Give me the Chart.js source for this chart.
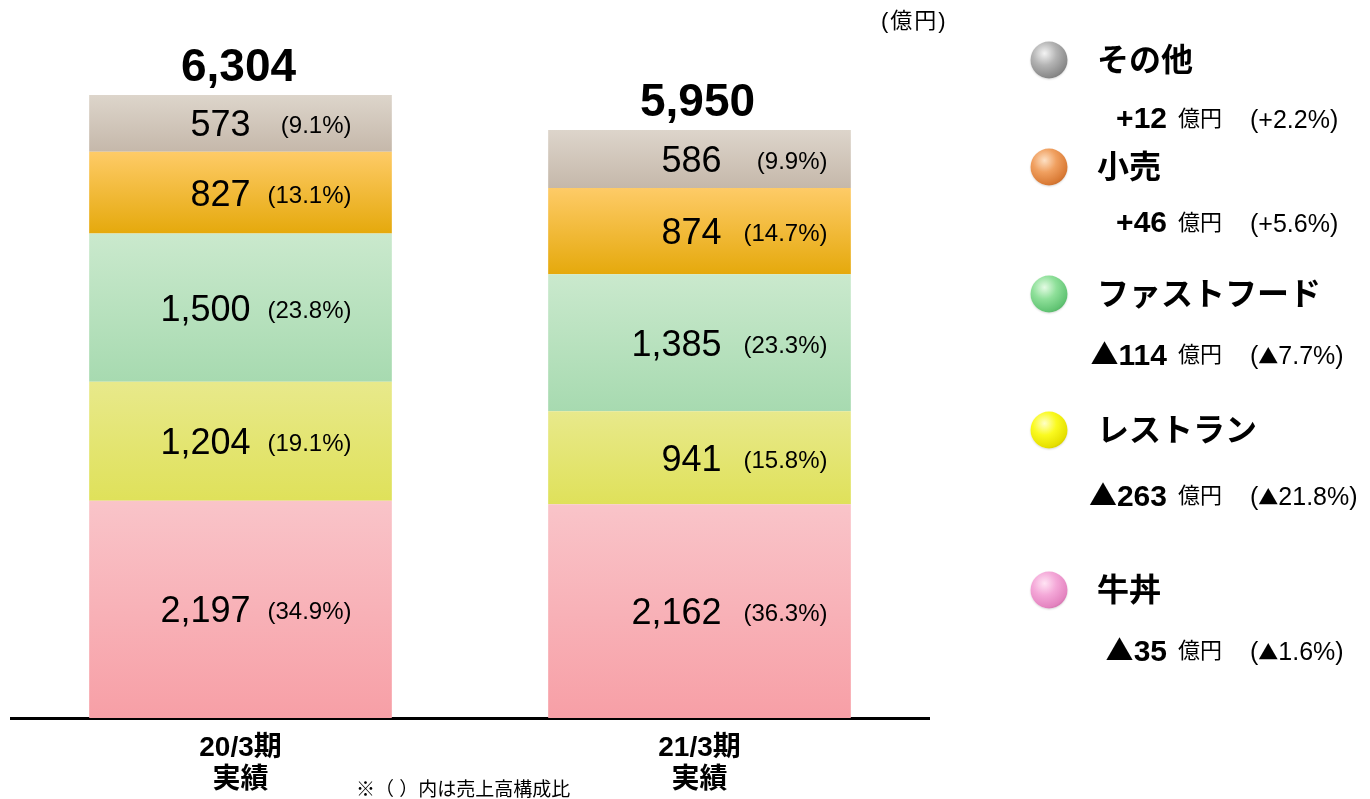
<!DOCTYPE html>
<html lang="ja">
<head>
<meta charset="utf-8">
<script src="https://cdn.jsdelivr.net/npm/chart.js@4.4.1/dist/chart.umd.min.js"></script>
<style>
  html, body { margin: 0; padding: 0; background: #fff; }
  body { width: 1370px; height: 799px; position: relative; overflow: hidden;
         font-family: "Liberation Sans", "Noto Sans CJK JP", sans-serif; color: #000; }
  #wrap { position: absolute; left: 0; top: 0; width: 1370px; height: 799px; }
  .abs { position: absolute; white-space: nowrap; transform: translateY(-50%); line-height: 1; }
  .sphere { position: absolute; width: 37px; height: 37px; border-radius: 50%; transform: translate(-50%, -50%);
            box-shadow: 0 1px 2px rgba(0,0,0,0.15); }
  .ttl { font-weight: bold; font-size: 32px; }
  .num { font-weight: bold; font-size: 30px; text-align: right; }
  .unit { font-size: 22px; }
  .pct { font-size: 25px; }
  .tri { font-family: "Noto Sans CJK JP", sans-serif; }
  .num .tri { font-size: 28px; }
  .pct .tri { font-size: 20px; }
</style>
</head>
<body>
<div id="wrap"><canvas id="c" width="1370" height="799"></canvas></div>
<div id="legend"></div>
<div class="abs" style="left:881px; top:21px; font-size:22px; letter-spacing:2px;">(億円)</div>
<div class="abs" style="left:356px; top:789px; font-size:19px;">※（ ）内は売上高構成比</div>
<script>
// ---------- data ----------
const categories = [["20/3期", "実績"], ["21/3期", "実績"]];
const seriesNames = ["牛丼", "レストラン", "ファストフード", "小売", "その他"];
const gyudon     = [2197, 2162];
const restaurant = [1204, 941];
const fastfood   = [1500, 1385];
const retail     = [827, 874];
const other      = [573, 586];
const totals     = [6304, 5950];
const shareGyudon     = ["34.9%", "36.3%"];
const shareRestaurant = ["19.1%", "15.8%"];
const shareFastfood   = ["23.8%", "23.3%"];
const shareRetail     = ["13.1%", "14.7%"];
const shareOther      = ["9.1%", "9.9%"];
// legend (top to bottom)
const legendNames   = ["その他", "小売", "ファストフード", "レストラン", "牛丼"];
const legendChange  = ["+12", "+46", "▲114", "▲263", "▲35"];
const legendPercent = ["+2.2%", "+5.6%", "▲7.7%", "▲21.8%", "▲1.6%"];

// ---------- styles ----------
const FONT = '"Liberation Sans", "Noto Sans CJK JP", sans-serif';
const gradColors = [
  ["#f9c4c9", "#f79fa6"],   // 牛丼
  ["#e8e98b", "#dfe15a"],   // レストラン
  ["#cae9cd", "#a7dab0"],   // ファストフード
  ["#fecb67", "#e5a90c"],   // 小売
  ["#ddd5cb", "#c5b8aa"]    // その他
];
const sphereStyles = [
  "radial-gradient(circle at 38% 32%, #f4f4f4 0%, #b4b4b4 35%, #8a8a8a 70%, #5a5a5a 100%)",
  "radial-gradient(circle at 38% 32%, #fde0c4 0%, #f0a060 35%, #d97a35 70%, #9c5320 100%)",
  "radial-gradient(circle at 38% 32%, #e4fbe4 0%, #8fe09a 35%, #62c474 70%, #3d8a4a 100%)",
  "radial-gradient(circle at 38% 32%, #ffffc8 0%, #fafa20 35%, #e6e000 70%, #a89e00 100%)",
  "radial-gradient(circle at 38% 32%, #ffe4f4 0%, #f4a8d8 35%, #e484c0 70%, #a05080 100%)"
];
const legendY    = [60, 167, 294, 430, 590];
const legendSubY = [118, 222, 354, 495, 650];
const numRightOffset = [10, 22];    // from bar center
const pctRightOffset = [111, 128];  // from bar center

const seriesData   = [gyudon, restaurant, fastfood, retail, other];
const seriesShares = [shareGyudon, shareRestaurant, shareFastfood, shareRetail, shareOther];

function gradFor(ctx) {
  const chart = ctx.chart;
  const cols = gradColors[ctx.datasetIndex];
  if (ctx.type !== 'data' || !chart.chartArea || !chart.scales.y) return cols[0];
  const i = ctx.dataIndex;
  let start = 0;
  for (let d = 0; d < ctx.datasetIndex; d++) start += seriesData[d][i];
  const end = start + seriesData[ctx.datasetIndex][i];
  const y0 = chart.scales.y.getPixelForValue(end);
  const y1 = chart.scales.y.getPixelForValue(start);
  const g = chart.ctx.createLinearGradient(0, y0, 0, y1);
  g.addColorStop(0, cols[0]);
  g.addColorStop(1, cols[1]);
  return g;
}

const labelPlugin = {
  id: 'segLabels',
  afterDatasetsDraw(chart) {
    const c = chart.ctx;
    c.save();
    c.fillStyle = '#000';
    c.textBaseline = 'alphabetic';
    chart.data.datasets.forEach((ds, di) => {
      const meta = chart.getDatasetMeta(di);
      meta.data.forEach((el, i) => {
        const cy = (el.y + el.base) / 2;
        c.textAlign = 'right';
        c.font = '36px ' + FONT;
        c.fillText(ds.data[i].toLocaleString('en-US'), el.x + numRightOffset[i], cy + 13);
        c.font = '24px ' + FONT;
        c.fillText('(' + seriesShares[di][i] + ')', el.x + pctRightOffset[i], cy + 10);
      });
    });
    // totals
    const topMeta = chart.getDatasetMeta(chart.data.datasets.length - 1);
    topMeta.data.forEach((el, i) => {
      c.textAlign = 'center';
      c.font = 'bold 46px ' + FONT;
      c.fillText(totals[i].toLocaleString('en-US'), el.x - 2, el.y - 14);
    });
    c.restore();
  }
};

new Chart(document.getElementById('c'), {
  type: 'bar',
  data: {
    labels: categories,
    datasets: seriesNames.map((n, di) => ({
      label: n,
      data: seriesData[di],
      backgroundColor: gradFor,
      borderWidth: 0,
      categoryPercentage: 1.0,
      barPercentage: 0.6594
    }))
  },
  options: {
    responsive: false,
    animation: false,
    events: [],
    layout: { padding: { left: 11, right: 441, top: 26, bottom: 0 } },
    plugins: { legend: { display: false }, tooltip: { enabled: false } },
    scales: {
      x: {
        stacked: true,
        grid: { display: false },
        border: { display: true, color: '#000', width: 3 },
        ticks: { color: '#000', padding: 6, font: { family: FONT, size: 28, weight: 'bold', lineHeight: 1.15 } },
        afterFit(s) { s.height = 81; }
      },
      y: {
        stacked: true,
        display: false,
        min: 0,
        max: 7000
      }
    }
  },
  plugins: [labelPlugin]
});

// ---------- HTML legend ----------
function withTri(el, text) {
  text.split(/(▲)/).forEach(part => {
    if (!part) return;
    if (part === '▲') {
      const sp = document.createElement('span');
      sp.className = 'tri';
      sp.textContent = part;
      el.appendChild(sp);
    } else {
      el.appendChild(document.createTextNode(part));
    }
  });
}
const lg = document.getElementById('legend');
legendNames.forEach((n, k) => {
  const s = document.createElement('div');
  s.className = 'sphere';
  s.style.left = '1049px'; s.style.top = legendY[k] + 'px';
  s.style.background = sphereStyles[k];
  lg.appendChild(s);
  const t = document.createElement('div');
  t.className = 'abs ttl';
  t.style.left = '1097px'; t.style.top = legendY[k] + 'px';
  t.textContent = n;
  lg.appendChild(t);
  const num = document.createElement('div');
  num.className = 'abs num';
  num.style.right = (1370 - 1167) + 'px'; num.style.top = legendSubY[k] + 'px';
  withTri(num, legendChange[k]);
  lg.appendChild(num);
  const u = document.createElement('div');
  u.className = 'abs unit';
  u.style.left = '1178px'; u.style.top = (legendSubY[k] + 1) + 'px';
  u.textContent = '億円';
  lg.appendChild(u);
  const p = document.createElement('div');
  p.className = 'abs pct';
  p.style.left = '1250px'; p.style.top = (legendSubY[k] + 1) + 'px';
  withTri(p, '(' + legendPercent[k] + ')');
  lg.appendChild(p);
});
</script>
</body>
</html>
